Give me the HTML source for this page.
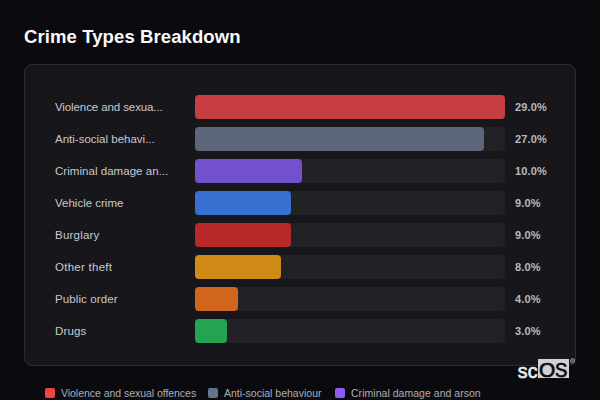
<!DOCTYPE html>
<html><head><meta charset="utf-8">
<style>
html,body{margin:0;padding:0;}
body{width:600px;height:400px;overflow:hidden;background:#0b0b0f;font-family:"Liberation Sans",sans-serif;position:relative;color:#d4d4d8;}
.title{position:absolute;left:24px;top:26px;font-size:18.5px;font-weight:bold;color:#fafafa;line-height:22px;letter-spacing:0.1px;white-space:nowrap;}
.card{position:absolute;left:24px;top:64px;width:550px;height:300px;border:1px solid #2c2c31;border-radius:8px;background:#17171b;}
.row{position:absolute;left:0;height:24px;width:600px;}
.lbl{position:absolute;left:55px;top:0;line-height:24px;font-size:11.5px;color:#c9c9ce;white-space:nowrap;}
.track{position:absolute;left:195px;top:0;width:310px;height:24px;border-radius:4px;background:#222226;}
.fill{position:absolute;left:0;top:0;height:24px;border-radius:4px;}
.pct{position:absolute;left:515px;top:0;line-height:24px;font-size:11px;font-weight:bold;color:#b9b9c0;white-space:nowrap;letter-spacing:0.15px;}
.sw{position:absolute;width:10px;height:10px;border-radius:2px;top:388px;}
.lt{position:absolute;top:385px;font-size:10.5px;line-height:16px;color:#aeaeb6;white-space:nowrap;}
.logo-sc{position:absolute;left:517.8px;top:359px;font-size:19.5px;line-height:24px;color:#ececec;white-space:nowrap;letter-spacing:0.2px;-webkit-text-stroke:0.7px #ececec;}
.logo-box{position:absolute;left:538px;top:359px;width:31px;height:19px;background:#d2d2d5;overflow:hidden;}
.logo-os{position:absolute;top:-0.6px;font-size:19.5px;line-height:24px;color:#0c0c0e;white-space:nowrap;transform-origin:0 0;-webkit-text-stroke:0.7px #0c0c0e;}
.reg{position:absolute;left:569.6px;top:358.2px;width:5.2px;height:5.8px;}
</style></head><body>
<div class="title">Crime Types Breakdown</div>
<div class="card"></div>

<div class="row" style="top:95px"><div class="lbl" id="l1" style="letter-spacing:-0.1px">Violence and sexua...</div><div class="track"><div class="fill" style="width:310px;background:#c73e42"></div></div><div class="pct">29.0%</div></div>
<div class="row" style="top:127px"><div class="lbl" id="l2">Anti-social behavi...</div><div class="track"><div class="fill" style="width:289px;background:#5c687a"></div></div><div class="pct">27.0%</div></div>
<div class="row" style="top:159px"><div class="lbl" id="l3" style="letter-spacing:0.04px">Criminal damage an...</div><div class="track"><div class="fill" style="width:107px;background:#7350cc"></div></div><div class="pct">10.0%</div></div>
<div class="row" style="top:191px"><div class="lbl" id="l4">Vehicle crime</div><div class="track"><div class="fill" style="width:96px;background:#3770d0"></div></div><div class="pct">9.0%</div></div>
<div class="row" style="top:223px"><div class="lbl" id="l5" style="letter-spacing:0.22px">Burglary</div><div class="track"><div class="fill" style="width:96px;background:#b82828"></div></div><div class="pct">9.0%</div></div>
<div class="row" style="top:255px"><div class="lbl" id="l6" style="letter-spacing:0.27px">Other theft</div><div class="track"><div class="fill" style="width:86px;background:#d08a18"></div></div><div class="pct">8.0%</div></div>
<div class="row" style="top:287px"><div class="lbl" id="l7" style="letter-spacing:0.1px">Public order</div><div class="track"><div class="fill" style="width:43px;background:#d2651e"></div></div><div class="pct">4.0%</div></div>
<div class="row" style="top:319px"><div class="lbl" id="l8" style="letter-spacing:0.15px">Drugs</div><div class="track"><div class="fill" style="width:32px;background:#24a452"></div></div><div class="pct">3.0%</div></div>

<div class="sw" style="left:45px;background:#ef4444"></div><div class="lt" id="g1" style="left:61px;letter-spacing:-0.04px">Violence and sexual offences</div>
<div class="sw" style="left:208px;background:#64748b"></div><div class="lt" id="g2" style="left:224px">Anti-social behaviour</div>
<div class="sw" style="left:335px;background:#8b5cf6"></div><div class="lt" id="g3" style="left:351px;letter-spacing:0.03px">Criminal damage and arson</div>

<div class="logo-sc">sc</div>
<div class="logo-box"><div class="logo-os" style="left:0.8px;transform:scaleX(1.07)">O</div><div class="logo-os" style="left:16.5px;transform:scaleX(0.95)">S</div></div>
<svg class="reg" viewBox="0 0 6 6" preserveAspectRatio="none"><circle cx="3" cy="3" r="2.4" fill="none" stroke="#a9b0bd" stroke-width="0.9"/><path d="M2.2 4.2V1.8H3.2Q3.9 1.8 3.9 2.5Q3.9 3.1 3.2 3.1H2.2M3.2 3.1L3.9 4.2" fill="none" stroke="#a9b0bd" stroke-width="0.6"/></svg>
</body></html>
